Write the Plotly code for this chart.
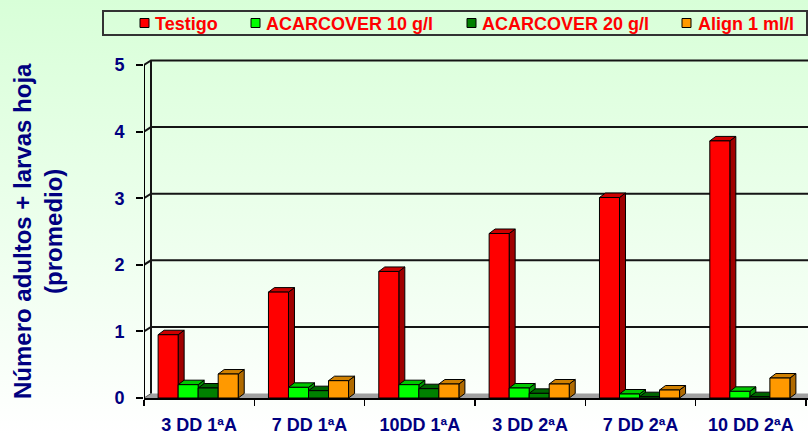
import base64
import plotly.graph_objects as go

# ---------------- data ----------------
categories = ["3 DD 1ªA", "7 DD 1ªA", "10DD 1ªA", "3 DD 2ªA", "7 DD 2ªA", "10 DD 2ªA"]
series_names = ["Testigo", "ACARCOVER 10 g/l", "ACARCOVER 20 g/l", "Align 1 ml/l"]
testigo = [0.95, 1.59, 1.90, 2.47, 3.01, 3.86]
acarcover10 = [0.20, 0.16, 0.20, 0.15, 0.06, 0.10]
acarcover20 = [0.15, 0.11, 0.14, 0.07, 0.02, 0.02]
align1 = [0.36, 0.26, 0.21, 0.21, 0.12, 0.30]
y_ticks = [0, 1, 2, 3, 4, 5]

series_values = [testigo, acarcover10, acarcover20, align1]
# front, top, side colours
colors = [
    ("#FF0000", "#CC0000", "#A00000"),
    ("#00FF00", "#00C800", "#009600"),
    ("#008000", "#006400", "#004A00"),
    ("#FF9900", "#D08000", "#B06A00"),
]

# ---------------- geometry ----------------
W, H = 808, 434
ML, MR, MT, MB = 144, 0, 59, 36
PW, PH = W - ML - MR, H - MT - MB
XR = [-0.5, 5.518]
YR = [0, 5.09]
sx = PW / (XR[1] - XR[0])
sy = PH / (YR[1] - YR[0])

WALL_DX, WALL_DY = 7 / sx, 4.5 / sy      # depth of walls (data units)
BAR_DX, BAR_DY = 6 / sx, 4.5 / sy        # depth of bars
BAR_W = 0.1815
GROUP_START = -0.372

def pxx(px):
    return (px - ML) / PW

def pxy(py):
    return (H - MB - py) / PH

NAVY = "#000080"
FONT = "Liberation Sans, Arial, sans-serif"

fig = go.Figure()
xs = list(range(len(categories)))
for i, (name, vals) in enumerate(zip(series_names, series_values)):
    fig.add_trace(go.Bar(
        x=xs, y=vals, name=name,
        width=BAR_W, offset=GROUP_START + i * BAR_W,
        marker=dict(color=colors[i][0], line=dict(color="black", width=1)),
        showlegend=False, hoverinfo="skip",
    ))

shapes = []
# floor
x_left, x_right = XR[0], 6.2
shapes.append(dict(type="path", xref="x", yref="y", layer="below",
                   path=f"M{x_left},0 L{x_right},0 L{x_right},{WALL_DY} L{x_left+WALL_DX},{WALL_DY} Z",
                   fillcolor="#A0A0A0", line=dict(width=0)))
# back wall grid lines and wall edges
for k in y_ticks[1:]:
    shapes.append(dict(type="path", xref="x", yref="y", layer="below",
                       path=f"M{x_left},{k} L{x_left+WALL_DX},{k+WALL_DY} L{x_right},{k+WALL_DY}",
                       line=dict(color="#151515", width=2)))
shapes.append(dict(type="line", xref="x", yref="y", layer="below",
                   x0=x_left + WALL_DX, x1=x_left + WALL_DX, y0=WALL_DY, y1=y_ticks[-1] + WALL_DY,
                   line=dict(color="#151515", width=2)))
shapes.append(dict(type="line", xref="x", yref="y", layer="below",
                   x0=x_left, x1=x_left + WALL_DX, y0=0, y1=WALL_DY,
                   line=dict(color="#555555", width=1)))
# 3D faces of bars
for c in xs:
    for i, vals in enumerate(series_values):
        v = vals[c]
        x0 = c + GROUP_START + i * BAR_W
        x1 = x0 + BAR_W
        side = (f"M{x1},0 L{x1},{v} L{x1+BAR_DX},{v+BAR_DY} "
                f"L{x1+BAR_DX},{BAR_DY} Z")
        top = (f"M{x0},{v} L{x1},{v} L{x1+BAR_DX},{v+BAR_DY} "
               f"L{x0+BAR_DX},{v+BAR_DY} Z")
        shapes.append(dict(type="path", xref="x", yref="y", layer="below", path=side,
                           fillcolor=colors[i][2], line=dict(color="black", width=1)))
        shapes.append(dict(type="path", xref="x", yref="y", layer="below", path=top,
                           fillcolor=colors[i][1], line=dict(color="black", width=1)))
# front y axis line
shapes.append(dict(type="line", xref="x", yref="y", x0=XR[0], x1=XR[0], y0=0, y1=y_ticks[-1],
                   line=dict(color="black", width=2)))

# manual legend
shapes.append(dict(type="rect", xref="paper", yref="paper",
                   x0=pxx(103), x1=pxx(807), y0=pxy(35), y1=pxy(11),
                   line=dict(color="#333333", width=2), fillcolor="rgba(0,0,0,0)"))
legend_sq_x = [140, 251, 467, 682]
legend_tx_x = [153, 264, 480, 696]
annotations = []
for i, name in enumerate(series_names):
    shapes.append(dict(type="rect", xref="paper", yref="paper",
                       x0=pxx(legend_sq_x[i]), x1=pxx(legend_sq_x[i] + 9),
                       y0=pxy(27.5), y1=pxy(18.5),
                       fillcolor=colors[i][0], line=dict(color="black", width=1)))
    annotations.append(dict(xref="paper", yref="paper", x=pxx(legend_tx_x[i]), y=pxy(23.5),
                            xanchor="left", yanchor="middle", showarrow=False,
                            text=f"<b>{name}</b>",
                            font=dict(family=FONT, size=18, color="#FF0000")))
# y title
annotations.append(dict(xref="paper", yref="paper", x=pxx(38), y=pxy(231),
                        xanchor="center", yanchor="middle", showarrow=False, textangle=-90,
                        text="<b>Número adultos + larvas hoja<br>(promedio)</b>",
                        font=dict(family=FONT, size=24, color=NAVY)))

# background gradient
svg = (f"<svg xmlns='http://www.w3.org/2000/svg' width='{W}' height='{H}' preserveAspectRatio='none'>"
       "<defs><linearGradient id='g' x1='0' y1='0' x2='0' y2='1'>"
       "<stop offset='0' stop-color='#D8FFD8'/><stop offset='1' stop-color='#FFFFFF'/>"
       "</linearGradient></defs>"
       f"<rect width='{W}' height='{H}' fill='url(#g)'/></svg>")
src = "data:image/svg+xml;base64," + base64.b64encode(svg.encode()).decode()

fig.update_layout(
    width=W, height=H,
    margin=dict(l=ML, r=MR, t=MT, b=MB, pad=0, autoexpand=False),
    barmode="overlay",
    paper_bgcolor="white",
    plot_bgcolor="rgba(0,0,0,0)",
    showlegend=False,
    hovermode=False,
    shapes=shapes,
    annotations=annotations,
    images=[dict(source=src, xref="paper", yref="paper",
                 x=pxx(0), y=pxy(0), sizex=W / PW, sizey=H / PH,
                 xanchor="left", yanchor="top", sizing="stretch", layer="below")],
    xaxis=dict(
        range=XR, showgrid=False, zeroline=False, automargin=False,
        showline=True, linecolor="black", linewidth=2,
        tickmode="array", tickvals=xs, ticktext=categories,
        ticks="", ticklabelstandoff=9,
        tickfont=dict(family=FONT, size=18, color=NAVY, weight="bold"),
        minor=dict(tickmode="array", tickvals=[c - 0.5 for c in xs] + [len(xs) - 0.5],
                   ticks="outside", ticklen=6, tickwidth=1.5, tickcolor="black", showgrid=False),
    ),
    yaxis=dict(
        range=YR, showgrid=False, zeroline=False, showline=False, automargin=False,
        tickmode="array", tickvals=y_ticks,
        ticks="outside", ticklen=7, tickwidth=2, tickcolor="black",
        ticklabelstandoff=8,
        tickfont=dict(family=FONT, size=18, color=NAVY, weight="bold"),
    ),
)

fig.write_html("out.html", config={"displayModeBar": False, "staticPlot": True},
               post_script="document.body.style.margin='0';document.body.style.overflow='hidden';")
